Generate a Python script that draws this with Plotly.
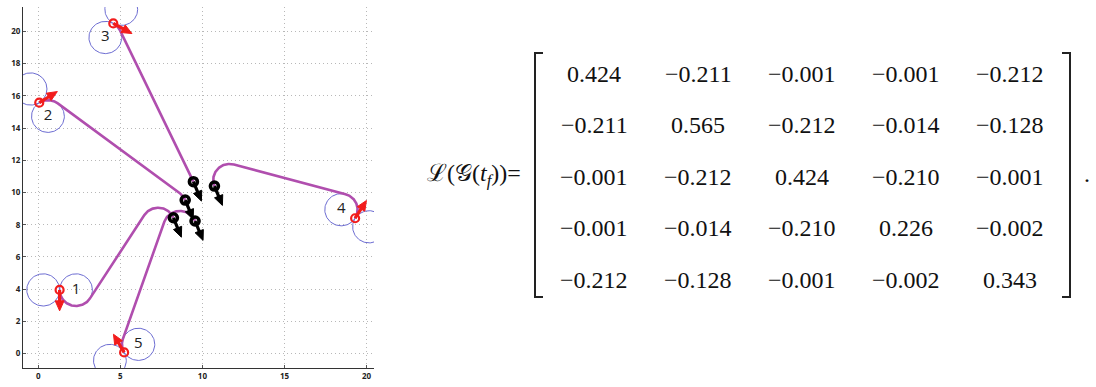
import numpy as np
import plotly.graph_objects as go

# ---- agent poses: (x, y, heading in degrees) at start and at t_f ----
agents = ["1", "2", "3", "4", "5"]
start_x = [1.30, 0.06, 4.57, 19.30, 5.23]
start_y = [3.95, 15.58, 20.50, 8.40, 0.07]
start_heading = [-90, 32, -29, 58, 120]
final_x = [8.23, 8.95, 9.45, 10.73, 9.55]
final_y = [8.43, 9.53, 10.67, 10.40, 8.23]
final_heading = [-68, -68, -68, -68, -68]
path_type = ["LSR", "RSR", "RSR", "LSL", "RSR"]
turn_radius = 1.0

# ---- Laplacian of the final communication graph ----
lap_row1 = [0.424, -0.211, -0.001, -0.001, -0.212]
lap_row2 = [-0.211, 0.565, -0.212, -0.014, -0.128]
lap_row3 = [-0.001, -0.212, 0.424, -0.210, -0.001]
lap_row4 = [-0.001, -0.014, -0.210, 0.226, -0.002]
lap_row5 = [-0.212, -0.128, -0.001, -0.002, 0.343]
laplacian = [lap_row1, lap_row2, lap_row3, lap_row4, lap_row5]

x_ticks = [0, 5, 10, 15, 20]
y_ticks = [0, 2, 4, 6, 8, 10, 12, 14, 16, 18, 20]

W, H = 1096, 387
R = turn_radius
PATH_COLOR = "#b04eae"
CIRCLE_COLOR = "#6c6cd2"
SERIF = "Liberation Serif, Times New Roman, DejaVu Serif, serif"


def turn_center(x, y, th, d):
    if d == "L":
        return np.array([x - R * np.sin(th), y + R * np.cos(th)])
    return np.array([x + R * np.sin(th), y - R * np.cos(th)])


def point_on(c, th, d):
    if d == "L":
        return c[0] + R * np.sin(th), c[1] - R * np.cos(th)
    return c[0] - R * np.sin(th), c[1] + R * np.cos(th)


def arc(c, th0, th1, d, n=80):
    if d == "L":
        delta = (th1 - th0) % (2 * np.pi)
        ths = th0 + np.linspace(0, delta, n)
    else:
        delta = (th0 - th1) % (2 * np.pi)
        ths = th0 - np.linspace(0, delta, n)
    xs, ys = point_on(c, ths, d)
    return list(xs), list(ys)


def dubins_csc(sx, sy, sth, ex, ey, eth, kind):
    """Turn-straight-turn path of a Dubins vehicle with radius R."""
    d1, d2 = kind[0], kind[2]
    c1 = turn_center(sx, sy, sth, d1)
    c2 = turn_center(ex, ey, eth, d2)
    dx, dy = c2 - c1
    alpha = np.arctan2(dy, dx)
    if d1 == d2:
        phi = alpha
    else:
        dist = np.hypot(dx, dy)
        L = np.sqrt(max(dist ** 2 - 4 * R ** 2, 0.0))
        beta = np.arctan2(2 * R, L)
        phi = alpha + beta if d1 == "L" else alpha - beta
    x1, y1 = arc(c1, sth, phi, d1)
    x2, y2 = arc(c2, phi, eth, d2)
    return x1 + x2, y1 + y2


def arrow(x, y, th, length=1.3, head_len=0.62, head_w=0.27):
    hx, hy = np.cos(th), np.sin(th)
    nx, ny = -hy, hx
    tip = (x + length * hx, y + length * hy)
    base = (x + (length - head_len) * hx, y + (length - head_len) * hy)
    shaft = ([x, base[0] + 0.1 * hx], [y, base[1] + 0.1 * hy])
    head = ([tip[0], base[0] + head_w * nx, base[0] - head_w * nx, tip[0]],
            [tip[1], base[1] + head_w * ny, base[1] - head_w * ny, tip[1]])
    return shaft, head


fig = go.Figure()

# turning circles at each starting pose
for sx, sy, sh in zip(start_x, start_y, start_heading):
    th = np.radians(sh)
    for d in ("L", "R"):
        c = turn_center(sx, sy, th, d)
        t = np.linspace(0, 2 * np.pi, 121)
        fig.add_trace(go.Scatter(x=c[0] + R * np.cos(t), y=c[1] + R * np.sin(t),
                                 mode="lines", line=dict(color=CIRCLE_COLOR, width=1),
                                 hoverinfo="skip", showlegend=False))

# trajectories
for i in range(len(agents)):
    px, py = dubins_csc(start_x[i], start_y[i], np.radians(start_heading[i]),
                        final_x[i], final_y[i], np.radians(final_heading[i]),
                        path_type[i])
    fig.add_trace(go.Scatter(x=px, y=py, mode="lines",
                             line=dict(color=PATH_COLOR, width=2.6),
                             showlegend=False, name="agent " + agents[i]))


def add_arrows(xs, ys, hs, color):
    sx_all, sy_all, hx_all, hy_all = [], [], [], []
    for x, y, h in zip(xs, ys, hs):
        shaft, head = arrow(x, y, np.radians(h))
        sx_all += shaft[0] + [None]
        sy_all += shaft[1] + [None]
        hx_all += head[0] + [None]
        hy_all += head[1] + [None]
    fig.add_trace(go.Scatter(x=sx_all, y=sy_all, mode="lines",
                             line=dict(color=color, width=3.2),
                             hoverinfo="skip", showlegend=False))
    fig.add_trace(go.Scatter(x=hx_all, y=hy_all, mode="lines", fill="toself",
                             fillcolor=color, line=dict(color=color, width=1),
                             hoverinfo="skip", showlegend=False))


add_arrows(start_x, start_y, start_heading, "#f21c1c")
add_arrows(final_x, final_y, final_heading, "#000000")

fig.add_trace(go.Scatter(x=start_x, y=start_y, mode="markers",
                         marker=dict(symbol="circle-open", size=8, color="#f21c1c",
                                     line=dict(width=2.2)),
                         showlegend=False, cliponaxis=False))
fig.add_trace(go.Scatter(x=final_x, y=final_y, mode="markers",
                         marker=dict(symbol="circle-open", size=8, color="#000000",
                                     line=dict(width=3.6)),
                         showlegend=False, cliponaxis=False))

# agent numbers at the centre of the first turning circle
lab_x, lab_y = [], []
for i in range(len(agents)):
    c = turn_center(start_x[i], start_y[i], np.radians(start_heading[i]), path_type[i][0])
    lab_x.append(c[0])
    lab_y.append(c[1])
fig.add_trace(go.Scatter(x=lab_x, y=lab_y, mode="text", text=agents,
                         textfont=dict(family="Open Sans", size=15, color="#222222"),
                         showlegend=False, cliponaxis=False))

# ---- matrix expression ----
annotations = []
col0, col_step = 594, 104
row0, row_step = 73.5, 51.6
for i, row in enumerate(laplacian):
    for j, v in enumerate(row):
        txt = f"{v:.3f}".replace("-", "\u2212")
        annotations.append(dict(
            x=(col0 + col_step * j) / W, y=1 - (row0 + row_step * i) / H,
            xref="paper", yref="paper", text=txt, showarrow=False,
            xanchor="center", yanchor="middle",
            font=dict(family=SERIF, size=24, color="#111111")))

annotations.append(dict(
    x=523 / W, y=1 - 175 / H, xref="paper", yref="paper",
    text="\u2112(\U0001D4A2(<i>t</i><sub><i>f</i></sub>))=", showarrow=False,
    xanchor="right", yanchor="middle",
    font=dict(family=SERIF, size=24, color="#111111")))
annotations.append(dict(
    x=1087 / W, y=1 - 174 / H, xref="paper", yref="paper", text=".",
    showarrow=False, xanchor="center", yanchor="middle",
    font=dict(family=SERIF, size=24, color="#111111")))


def bracket(xv, xs, y0, y1):
    return dict(type="path", xref="paper", yref="paper",
                path=f"M {xs / W},{1 - y0 / H} L {xv / W},{1 - y0 / H} "
                     f"L {xv / W},{1 - y1 / H} L {xs / W},{1 - y1 / H}",
                line=dict(color="#222222", width=2))


shapes = [bracket(535, 543, 53, 297), bracket(1070, 1062, 53, 297)]

axis_common = dict(showline=True, linecolor="#333333", linewidth=1.2,
                   ticks="inside", ticklen=3, tickcolor="#555555",
                   showgrid=True, gridcolor="#b8b8b8", griddash="1px,3px", gridwidth=1,
                   zeroline=False, mirror=False,
                   tickfont=dict(family="Open Sans", size=8, color="#222222", weight="bold"))

fig.update_layout(
    width=W, height=H, margin=dict(l=0, r=0, t=0, b=0),
    paper_bgcolor="white", plot_bgcolor="white",
    xaxis=dict(domain=[23 / W, 374 / W], range=[-0.93, 20.45],
               tickvals=x_ticks, **axis_common),
    yaxis=dict(domain=[1 - 368 / H, 1 - 7 / H], range=[-0.9, 21.52],
               tickvals=y_ticks, **axis_common),
    annotations=annotations, shapes=shapes, showlegend=False,
)

fig.write_html("out.html")
